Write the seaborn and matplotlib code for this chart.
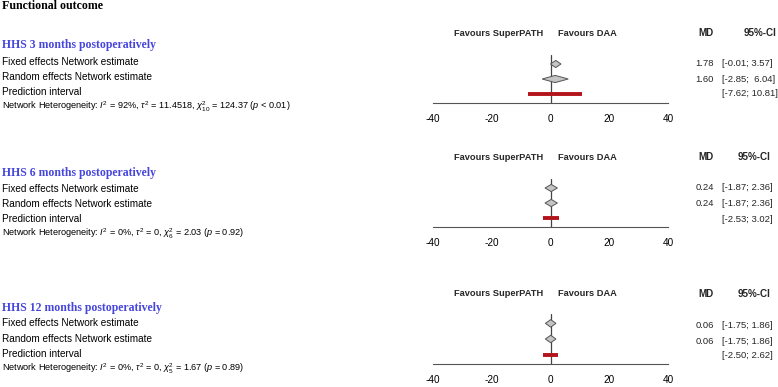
import matplotlib
matplotlib.use("Agg")
import matplotlib.pyplot as plt
import seaborn as sns
import numpy as np

# ---------------- data ----------------
section_title = "Functional outcome"
outcomes = ["HHS 3 months postoperatively",
            "HHS 6 months postoperatively",
            "HHS 12 months postoperatively"]
row_labels = ["Fixed effects Network estimate",
              "Random effects Network estimate",
              "Prediction interval"]
fixed_md = [1.78, 0.24, 0.06]
fixed_lo = [-0.01, -1.87, -1.75]
fixed_hi = [3.57, 2.36, 1.86]
random_md = [1.60, 0.24, 0.06]
random_lo = [-2.85, -1.87, -1.75]
random_hi = [6.04, 2.36, 1.86]
pred_lo = [-7.62, -2.53, -2.50]
pred_hi = [10.81, 3.02, 2.62]
het_i2 = ["92%", "0%", "0%"]
het_tau2 = ["11.4518", "0", "0"]
het_df = [10, 6, 5]
het_q = ["124.37", "2.03", "1.67"]
het_p = ["< 0.01", "= 0.92", "= 0.89"]
x_ticks = [-40, -20, 0, 20, 40]
left_label = "Favours SuperPATH"
right_label = "Favours DAA"

# ---------------- style ----------------
sns.set_theme(style="white")
plt.rcParams["font.family"] = ["Liberation Sans", "DejaVu Sans"]
plt.rcParams["mathtext.fontset"] = "custom"
plt.rcParams["mathtext.rm"] = "Liberation Sans"
plt.rcParams["mathtext.it"] = "Liberation Sans:italic"
plt.rcParams["mathtext.bf"] = "Liberation Sans:bold"

W, H = 778, 387
fig = plt.figure(figsize=(W / 100, H / 100), dpi=100)

def ftext(x, y, s, **kw):
    kw.setdefault("va", "center")
    fig.text(x / W, 1 - y / H, s, **kw)

TXT = 7.2
HDR = 6.7
RHDR = 7.1
COL = 6.8
SERIF = ["Liberation Serif", "DejaVu Serif"]
BLUE = "#4646DC"
RED = "#B3141B"
GREY_EDGE = "#555555"

ftext(2, 6, section_title, fontsize=8.6, fontweight="bold", family=SERIF, color="black")

# layout per panel (pixels)
layout = [
    dict(title=45, left=[62, 77, 92], het=107, header=33, top=55, axis=103, right=[63, 79, 94], ci_right=777),
    dict(title=173, left=[189, 204, 219], het=234, header=157, top=179, axis=227, right=[188, 203, 219], ci_right=770),
    dict(title=308, left=[323, 339, 354], het=369, header=294, top=314, axis=364, right=[325, 341, 356], ci_right=771),
]
AX_L, AX_R = 433, 668

def fmt_ci(lo, hi, width):
    return f"[{lo:.2f}; {hi:>{width}.2f}]"

for i, L in enumerate(layout):
    # left column text
    ftext(2, L["title"], outcomes[i], fontsize=8.5, fontweight="bold", family=SERIF, color=BLUE)
    for j, lab in enumerate(row_labels):
        ftext(2, L["left"][j], lab, fontsize=TXT, color="black")
    het = (f"Network Heterogeneity: $I^2$ = {het_i2[i]}, $\\tau^2$ = {het_tau2[i]}, "
           f"$\\chi^2_{{{het_df[i]}}}$ = {het_q[i]} ($p$ {het_p[i]})")
    ftext(2, L["het"], het, fontsize=6.6, color="black")

    # forest axes
    top, axis = L["top"], L["axis"]
    ax = fig.add_axes([AX_L / W, 1 - axis / H, (AX_R - AX_L) / W, (axis - top) / H])
    ax.set_xlim(-40, 40)
    ax.set_ylim(3.6, 0.4)
    ax.axvline(0, color="#444444", lw=0.9, zorder=1)
    h = 0.24
    for r, (m, lo, hi) in enumerate([(fixed_md[i], fixed_lo[i], fixed_hi[i]),
                                     (random_md[i], random_lo[i], random_hi[i])], start=1):
        ax.fill([lo, m, hi, m], [r, r - h, r, r + h], facecolor="#C4C4C4",
                edgecolor=GREY_EDGE, lw=0.7, zorder=3)
    sns.lineplot(x=[pred_lo[i], pred_hi[i]], y=[3, 3], ax=ax, color=RED, lw=2.8,
                 estimator=None, sort=False, zorder=4, solid_capstyle="butt")
    for s in ["top", "left", "right"]:
        ax.spines[s].set_visible(False)
    ax.spines["bottom"].set_color(GREY_EDGE)
    ax.spines["bottom"].set_linewidth(0.8)
    ax.set_xticks(x_ticks)
    ax.set_xticklabels([str(t) for t in x_ticks])
    ax.set_yticks([])
    ax.tick_params(axis="x", direction="out", length=4, width=0.8, color=GREY_EDGE,
                   pad=4, labelsize=TXT, labelcolor="black")
    ax.patch.set_alpha(0)
    ax.set_xlabel("")
    ax.set_ylabel("")

    # header labels
    zero_px = AX_L + (0 + 40) / 80 * (AX_R - AX_L)
    ftext(zero_px - 7, L["header"], left_label, ha="right", fontsize=HDR, fontweight="bold")
    ftext(zero_px + 7, L["header"], right_label, ha="left", fontsize=HDR, fontweight="bold")
    ftext(706, L["header"], "MD", ha="center", fontsize=RHDR, fontweight="bold")
    ftext(L["ci_right"], L["header"], "95%-CI", ha="right", fontsize=RHDR, fontweight="bold")

    # right columns
    w_rp = max(len(f"{random_hi[i]:.2f}"), len(f"{pred_hi[i]:.2f}"))
    w_f = len(f"{fixed_hi[i]:.2f}")
    ftext(714, L["right"][0], f"{fixed_md[i]:.2f}", ha="right", fontsize=COL)
    ftext(714, L["right"][1], f"{random_md[i]:.2f}", ha="right", fontsize=COL)
    ftext(722, L["right"][0], fmt_ci(fixed_lo[i], fixed_hi[i], w_f), ha="left", fontsize=COL)
    ftext(722, L["right"][1], fmt_ci(random_lo[i], random_hi[i], w_rp), ha="left", fontsize=COL)
    ftext(722, L["right"][2], fmt_ci(pred_lo[i], pred_hi[i], w_rp), ha="left", fontsize=COL)

fig.savefig("out.png", dpi=100)
